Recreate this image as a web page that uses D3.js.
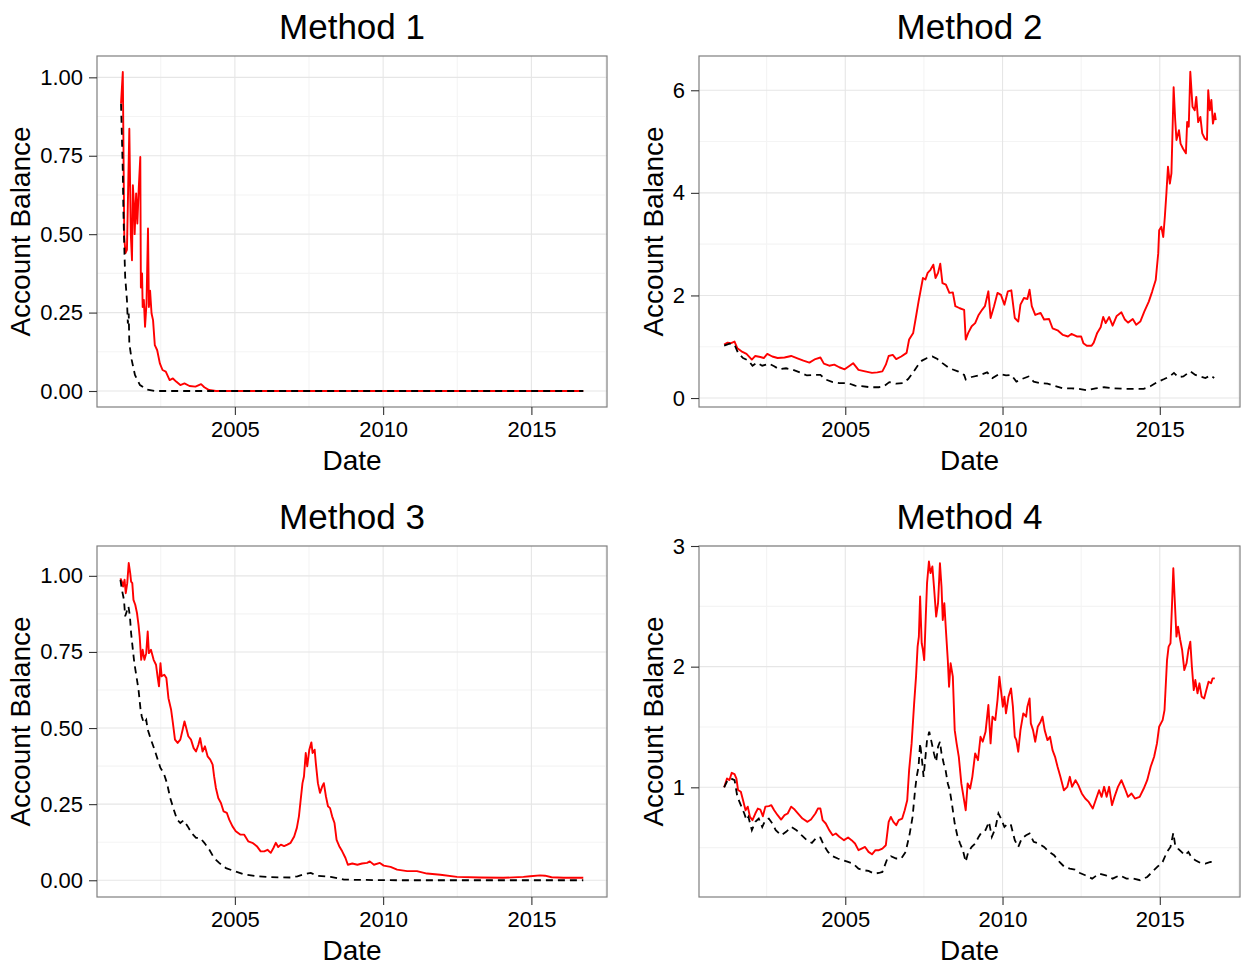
<!DOCTYPE html>
<html>
<head>
<meta charset="utf-8">
<script src="https://cdn.jsdelivr.net/npm/d3@7"></script>
<style>
body { margin: 0; background: #fff; }
svg text { font-family: "Liberation Sans", Arial, Helvetica, sans-serif; fill: #000; }
</style>
</head>
<body>
<svg id="canvas"></svg>
<script>
// values: [year, account balance]
let m1Red = [[2001.16,0.916],[2001.22,1.017],[2001.27,0.49],[2001.31,0.44],[2001.36,0.45],[2001.44,0.836],[2001.49,0.50],
  [2001.53,0.417],[2001.56,0.656],[2001.60,0.587],[2001.62,0.50],[2001.67,0.63],[2001.71,0.534],[2001.76,0.65],[2001.81,0.746],
  [2001.83,0.33],[2001.87,0.375],[2001.89,0.268],[2001.93,0.29],[2001.97,0.205],[2002.02,0.28],[2002.07,0.518],[2002.10,0.268],
  [2002.14,0.32],[2002.19,0.247],[2002.24,0.226],[2002.30,0.146],[2002.38,0.13],[2002.47,0.088],[2002.56,0.067],[2002.67,0.062],
  [2002.80,0.035],[2002.91,0.04],[2003.02,0.03],[2003.16,0.019],[2003.30,0.024],[2003.47,0.016],[2003.67,0.014],[2003.86,0.022],
  [2003.97,0.012],[2004.13,0.003],[2004.36,0],[2016.75,0]]
let m1Black = [[2001.16,0.916],[2001.19,0.81],[2001.22,0.70],[2001.24,0.576],[2001.27,0.46],[2001.30,0.364],[2001.36,0.29],
  [2001.39,0.215],[2001.42,0.247],[2001.44,0.152],[2001.52,0.099],[2001.63,0.051],[2001.80,0.019],[2002.02,0.005],[2002.30,0],[2016.75,0]]

let m2Red = [[2001.15,1.04],[2001.26,1.08],[2001.37,1.07],[2001.48,1.10],[2001.57,0.97],[2001.70,0.91],[2001.86,0.86],[2002.03,0.75],
  [2002.14,0.82],[2002.30,0.80],[2002.41,0.78],[2002.52,0.86],[2002.68,0.81],[2002.85,0.78],[2003.07,0.79],[2003.28,0.82],
  [2003.50,0.77],[2003.67,0.73],[2003.86,0.69],[2004.05,0.76],[2004.21,0.79],[2004.32,0.67],[2004.49,0.63],[2004.65,0.65],
  [2004.81,0.60],[2004.98,0.56],[2005.14,0.63],[2005.25,0.68],[2005.42,0.55],[2005.63,0.52],[2005.85,0.49],[2006.02,0.50],
  [2006.18,0.52],[2006.29,0.65],[2006.38,0.82],[2006.51,0.84],[2006.62,0.76],[2006.78,0.81],[2006.95,0.88],[2007.03,1.14],
  [2007.16,1.27],[2007.25,1.59],[2007.33,1.88],[2007.40,2.11],[2007.47,2.34],[2007.55,2.31],[2007.62,2.44],[2007.71,2.50],
  [2007.80,2.60],[2007.87,2.34],[2007.95,2.44],[2008.02,2.62],[2008.09,2.24],[2008.20,2.21],[2008.31,2.05],[2008.42,2.06],
  [2008.50,1.79],[2008.64,1.75],[2008.78,1.72],[2008.83,1.14],[2008.91,1.27],[2009.02,1.40],[2009.13,1.46],[2009.24,1.62],
  [2009.35,1.72],[2009.44,1.79],[2009.55,2.08],[2009.62,1.56],[2009.73,1.79],[2009.84,2.05],[2009.95,2.01],[2010.06,1.82],
  [2010.17,2.08],[2010.28,2.10],[2010.39,1.56],[2010.50,1.49],[2010.57,1.82],[2010.68,1.95],[2010.79,1.93],[2010.86,2.11],
  [2010.93,1.79],[2011.04,1.62],[2011.21,1.66],[2011.32,1.53],[2011.48,1.54],[2011.59,1.36],[2011.75,1.32],[2011.92,1.23],
  [2012.08,1.20],[2012.19,1.25],[2012.36,1.20],[2012.50,1.20],[2012.57,1.07],[2012.68,1.02],[2012.83,1.02],[2012.90,1.08],
  [2013.01,1.27],[2013.12,1.38],[2013.20,1.58],[2013.28,1.46],[2013.39,1.58],[2013.50,1.41],[2013.63,1.60],[2013.78,1.67],
  [2013.89,1.53],[2013.99,1.47],[2014.14,1.54],[2014.25,1.43],[2014.38,1.49],[2014.51,1.69],[2014.65,1.88],[2014.76,2.08],
  [2014.87,2.30],[2014.95,2.82],[2014.98,3.27],[2015.05,3.34],[2015.11,3.14],[2015.16,3.53],[2015.21,3.99],[2015.26,4.51],
  [2015.32,4.18],[2015.37,4.38],[2015.40,5.09],[2015.44,6.06],[2015.49,5.42],[2015.53,5.03],[2015.61,5.22],[2015.66,4.96],
  [2015.74,4.86],[2015.83,4.77],[2015.87,5.38],[2015.92,5.29],[2015.97,6.36],[2016.04,5.68],[2016.11,5.61],[2016.16,5.87],
  [2016.22,5.38],[2016.29,5.48],[2016.35,5.16],[2016.43,5.06],[2016.50,5.03],[2016.54,6.00],[2016.59,5.61],[2016.64,5.81],
  [2016.69,5.35],[2016.75,5.55],[2016.78,5.42]]
let m2Black = [[2001.15,1.02],[2001.32,1.06],[2001.48,1.04],[2001.59,0.88],[2001.75,0.78],[2001.92,0.73],[2002.05,0.63],
  [2002.19,0.69],[2002.36,0.63],[2002.57,0.67],[2002.74,0.62],[2002.90,0.56],[2003.12,0.58],[2003.34,0.55],[2003.56,0.50],
  [2003.78,0.44],[2004.00,0.45],[2004.21,0.45],[2004.38,0.36],[2004.60,0.31],[2004.81,0.29],[2005.09,0.29],[2005.31,0.24],
  [2005.52,0.23],[2005.80,0.21],[2006.07,0.21],[2006.23,0.23],[2006.40,0.31],[2006.62,0.28],[2006.84,0.29],[2007.00,0.37],
  [2007.16,0.50],[2007.30,0.63],[2007.44,0.73],[2007.60,0.78],[2007.77,0.81],[2007.93,0.76],[2008.09,0.68],[2008.31,0.58],
  [2008.58,0.52],[2008.78,0.45],[2008.83,0.36],[2009.02,0.41],[2009.24,0.44],[2009.51,0.50],[2009.68,0.39],[2009.90,0.47],
  [2010.11,0.44],[2010.28,0.45],[2010.44,0.32],[2010.61,0.37],[2010.83,0.42],[2010.99,0.32],[2011.21,0.29],[2011.43,0.28],
  [2011.64,0.24],[2011.92,0.19],[2012.19,0.19],[2012.41,0.18],[2012.68,0.15],[2012.96,0.19],[2013.23,0.21],[2013.50,0.19],
  [2013.83,0.18],[2014.16,0.18],[2014.49,0.18],[2014.70,0.23],[2014.92,0.31],[2015.14,0.37],[2015.31,0.42],[2015.45,0.49],
  [2015.58,0.41],[2015.75,0.42],[2015.97,0.52],[2016.13,0.45],[2016.28,0.42],[2016.45,0.39],[2016.61,0.44],[2016.73,0.39]]

let m3Red = [[2001.14,0.992],[2001.19,0.98],[2001.23,0.965],[2001.28,0.987],[2001.32,0.943],[2001.37,0.976],[2001.42,1.042],
  [2001.47,1.009],[2001.50,0.981],[2001.54,0.976],[2001.58,0.921],[2001.64,0.905],[2001.70,0.877],[2001.75,0.839],[2001.79,0.80],
  [2001.84,0.724],[2001.89,0.757],[2001.95,0.724],[2002.01,0.746],[2002.06,0.817],[2002.10,0.746],[2002.17,0.757],[2002.26,0.724],
  [2002.34,0.708],[2002.40,0.664],[2002.44,0.637],[2002.49,0.713],[2002.53,0.67],[2002.62,0.675],[2002.69,0.664],[2002.76,0.598],
  [2002.85,0.56],[2002.91,0.516],[2002.98,0.462],[2003.07,0.451],[2003.16,0.462],[2003.24,0.495],[2003.30,0.522],[2003.36,0.50],
  [2003.43,0.473],[2003.52,0.462],[2003.61,0.434],[2003.69,0.423],[2003.77,0.445],[2003.83,0.467],[2003.91,0.423],[2003.99,0.44],
  [2004.08,0.407],[2004.17,0.396],[2004.25,0.38],[2004.30,0.341],[2004.36,0.303],[2004.44,0.27],[2004.53,0.254],[2004.62,0.226],
  [2004.73,0.221],[2004.81,0.199],[2004.92,0.177],[2005.03,0.161],[2005.18,0.15],[2005.31,0.15],[2005.45,0.128],[2005.59,0.123],
  [2005.74,0.112],[2005.87,0.095],[2005.99,0.095],[2006.10,0.10],[2006.21,0.09],[2006.30,0.106],[2006.38,0.123],[2006.46,0.109],
  [2006.55,0.117],[2006.66,0.112],[2006.77,0.117],[2006.88,0.123],[2007.00,0.144],[2007.09,0.172],[2007.16,0.21],[2007.22,0.265],
  [2007.28,0.319],[2007.33,0.341],[2007.39,0.418],[2007.44,0.374],[2007.51,0.429],[2007.58,0.453],[2007.62,0.418],[2007.69,0.429],
  [2007.73,0.385],[2007.80,0.319],[2007.87,0.287],[2007.95,0.309],[2008.00,0.319],[2008.07,0.276],[2008.14,0.243],[2008.21,0.237],
  [2008.28,0.21],[2008.36,0.188],[2008.43,0.133],[2008.52,0.112],[2008.62,0.095],[2008.73,0.073],[2008.81,0.051],[2008.96,0.055],
  [2009.13,0.051],[2009.29,0.055],[2009.46,0.057],[2009.55,0.062],[2009.69,0.051],[2009.89,0.057],[2010.02,0.048],[2010.25,0.044],
  [2010.47,0.035],[2010.81,0.03],[2011.14,0.03],[2011.48,0.022],[2011.93,0.018],[2012.49,0.011],[2013.27,0.009],[2014.05,0.008],
  [2014.73,0.011],[2014.96,0.013],[2015.29,0.016],[2015.46,0.015],[2015.68,0.01],[2016.08,0.008],[2016.75,0.008]]
let m3Black = [[2001.14,0.987],[2001.19,0.954],[2001.26,0.921],[2001.30,0.867],[2001.37,0.888],[2001.41,0.90],[2001.46,0.867],
  [2001.50,0.812],[2001.56,0.757],[2001.61,0.713],[2001.68,0.67],[2001.75,0.626],[2001.82,0.56],[2001.86,0.538],[2001.93,0.516],
  [2002.01,0.527],[2002.06,0.495],[2002.17,0.462],[2002.29,0.429],[2002.40,0.396],[2002.49,0.369],[2002.60,0.352],[2002.71,0.319],
  [2002.82,0.27],[2002.94,0.232],[2003.05,0.199],[2003.16,0.188],[2003.27,0.197],[2003.41,0.177],[2003.54,0.155],[2003.69,0.139],
  [2003.83,0.139],[2003.97,0.123],[2004.14,0.10],[2004.30,0.073],[2004.47,0.057],[2004.70,0.04],[2004.98,0.03],[2005.31,0.019],
  [2005.76,0.013],[2006.21,0.01],[2006.88,0.009],[2007.11,0.013],[2007.33,0.02],[2007.56,0.024],[2007.78,0.015],[2008.23,0.011],
  [2008.68,0.002],[2009.35,0.001],[2010.47,0],[2016.75,0]]

let m4Red = [[2001.15,1.0],[2001.24,1.073],[2001.32,1.06],[2001.39,1.12],[2001.48,1.11],[2001.54,1.073],[2001.59,0.978],
  [2001.68,0.963],[2001.75,0.893],[2001.83,0.81],[2001.90,0.84],[2001.97,0.755],[2002.05,0.728],[2002.14,0.783],[2002.22,0.824],
  [2002.30,0.816],[2002.38,0.76],[2002.46,0.84],[2002.57,0.844],[2002.65,0.852],[2002.74,0.81],[2002.85,0.769],[2002.96,0.733],
  [2003.07,0.769],[2003.17,0.783],[2003.28,0.84],[2003.39,0.816],[2003.50,0.783],[2003.64,0.741],[2003.80,0.714],[2003.91,0.733],
  [2004.05,0.783],[2004.13,0.824],[2004.21,0.824],[2004.28,0.728],[2004.38,0.70],[2004.49,0.645],[2004.60,0.603],[2004.70,0.617],
  [2004.81,0.59],[2004.96,0.562],[2005.09,0.584],[2005.20,0.562],[2005.31,0.534],[2005.42,0.479],[2005.52,0.492],[2005.63,0.506],
  [2005.74,0.465],[2005.85,0.445],[2005.96,0.479],[2006.07,0.479],[2006.18,0.492],[2006.29,0.52],[2006.38,0.714],[2006.45,0.755],
  [2006.53,0.714],[2006.62,0.686],[2006.70,0.728],[2006.81,0.741],[2006.89,0.81],[2006.97,0.893],[2007.03,1.142],[2007.11,1.364],
  [2007.19,1.696],[2007.25,1.917],[2007.30,2.166],[2007.34,2.249],[2007.38,2.581],[2007.43,2.194],[2007.47,2.138],[2007.51,2.055],
  [2007.56,2.415],[2007.60,2.692],[2007.66,2.871],[2007.71,2.775],[2007.77,2.83],[2007.82,2.664],[2007.89,2.415],[2007.95,2.526],
  [2008.01,2.858],[2008.06,2.664],[2008.10,2.387],[2008.15,2.526],[2008.20,2.304],[2008.26,2.055],[2008.30,1.834],[2008.35,2.028],
  [2008.42,1.917],[2008.48,1.474],[2008.54,1.364],[2008.61,1.253],[2008.69,1.032],[2008.76,0.921],[2008.83,0.81],[2008.89,1.032],
  [2008.97,0.99],[2009.04,1.087],[2009.13,1.281],[2009.22,1.225],[2009.30,1.419],[2009.37,1.378],[2009.46,1.46],[2009.55,1.682],
  [2009.62,1.364],[2009.68,1.585],[2009.77,1.557],[2009.84,1.723],[2009.90,1.917],[2009.95,1.806],[2010.01,1.668],[2010.06,1.751],
  [2010.11,1.613],[2010.19,1.751],[2010.27,1.82],[2010.33,1.668],[2010.39,1.419],[2010.44,1.391],[2010.50,1.295],[2010.57,1.474],
  [2010.66,1.613],[2010.75,1.585],[2010.79,1.668],[2010.86,1.737],[2010.90,1.53],[2010.97,1.474],[2011.04,1.378],[2011.12,1.502],
  [2011.21,1.544],[2011.27,1.585],[2011.34,1.474],[2011.43,1.391],[2011.51,1.419],[2011.59,1.308],[2011.67,1.253],[2011.75,1.17],
  [2011.84,1.087],[2011.95,0.976],[2012.06,1.004],[2012.14,1.087],[2012.21,1.004],[2012.32,1.059],[2012.41,1.018],[2012.52,0.949],
  [2012.63,0.907],[2012.74,0.879],[2012.87,0.824],[2012.96,0.893],[2013.07,0.976],[2013.15,0.921],[2013.23,1.004],[2013.31,0.921],
  [2013.39,1.004],[2013.48,0.852],[2013.56,0.921],[2013.67,1.004],[2013.78,1.059],[2013.89,0.99],[2013.99,0.921],[2014.10,0.949],
  [2014.21,0.907],[2014.36,0.921],[2014.49,0.99],[2014.60,1.059],[2014.71,1.17],[2014.82,1.253],[2014.91,1.364],[2014.98,1.502],
  [2015.09,1.557],[2015.15,1.64],[2015.23,2.055],[2015.28,2.166],[2015.34,2.194],[2015.39,2.526],[2015.43,2.816],[2015.47,2.581],
  [2015.53,2.249],[2015.58,2.332],[2015.65,2.221],[2015.71,2.138],[2015.78,1.972],[2015.85,2.028],[2015.91,2.138],[2015.97,2.207],
  [2016.02,2.0],[2016.08,1.806],[2016.13,1.889],[2016.20,1.779],[2016.26,1.862],[2016.33,1.751],[2016.41,1.737],[2016.48,1.806],
  [2016.55,1.875],[2016.63,1.862],[2016.68,1.903],[2016.75,1.903]]
let m4Black = [[2001.15,1.0],[2001.26,1.06],[2001.37,1.073],[2001.48,1.06],[2001.57,0.921],[2001.68,0.852],[2001.79,0.783],
  [2001.86,0.728],[2001.92,0.755],[2002.03,0.645],[2002.14,0.714],[2002.25,0.741],[2002.36,0.672],[2002.46,0.728],[2002.57,0.741],
  [2002.68,0.70],[2002.79,0.645],[2002.96,0.603],[2003.12,0.631],[2003.28,0.672],[2003.45,0.645],[2003.61,0.603],[2003.78,0.562],
  [2003.94,0.539],[2004.10,0.589],[2004.21,0.584],[2004.32,0.52],[2004.45,0.465],[2004.60,0.429],[2004.76,0.41],[2004.92,0.396],
  [2005.09,0.382],[2005.25,0.368],[2005.42,0.326],[2005.58,0.313],[2005.74,0.307],[2005.91,0.285],[2006.07,0.29],[2006.18,0.299],
  [2006.34,0.41],[2006.45,0.429],[2006.62,0.41],[2006.78,0.41],[2006.92,0.465],[2007.05,0.617],[2007.14,0.755],[2007.22,0.978],
  [2007.27,1.087],[2007.33,1.17],[2007.38,1.364],[2007.44,1.225],[2007.49,1.087],[2007.55,1.253],[2007.60,1.391],[2007.67,1.46],
  [2007.73,1.391],[2007.82,1.281],[2007.89,1.212],[2007.95,1.336],[2008.01,1.378],[2008.06,1.281],[2008.13,1.198],[2008.19,1.142],
  [2008.26,1.032],[2008.32,0.978],[2008.39,0.866],[2008.48,0.70],[2008.56,0.603],[2008.65,0.534],[2008.74,0.479],[2008.83,0.382],
  [2008.91,0.465],[2009.02,0.506],[2009.13,0.534],[2009.24,0.589],[2009.34,0.631],[2009.46,0.645],[2009.57,0.714],[2009.66,0.589],
  [2009.77,0.658],[2009.87,0.783],[2009.95,0.741],[2010.06,0.672],[2010.17,0.70],[2010.27,0.686],[2010.39,0.562],[2010.50,0.506],
  [2010.61,0.576],[2010.75,0.603],[2010.86,0.617],[2010.99,0.548],[2011.15,0.534],[2011.32,0.506],[2011.48,0.465],[2011.64,0.437],
  [2011.81,0.382],[2011.97,0.34],[2012.14,0.326],[2012.30,0.318],[2012.46,0.29],[2012.63,0.271],[2012.85,0.243],[2013.07,0.285],
  [2013.28,0.271],[2013.50,0.243],[2013.72,0.271],[2013.94,0.243],[2014.16,0.243],[2014.37,0.23],[2014.60,0.257],[2014.76,0.299],
  [2014.92,0.34],[2015.09,0.382],[2015.23,0.465],[2015.34,0.506],[2015.43,0.622],[2015.49,0.52],[2015.58,0.492],[2015.69,0.465],
  [2015.80,0.437],[2015.91,0.465],[2016.00,0.423],[2016.13,0.396],[2016.29,0.373],[2016.45,0.368],[2016.61,0.382],[2016.75,0.373]]

let titles = ['Method 1', 'Method 2', 'Method 3', 'Method 4']
let xTicks = [2005, 2010, 2015]
let xMinor = [2002.5, 2007.5, 2012.5, 2017.5]
let yTicksSmall = [0, 0.25, 0.5, 0.75, 1]
let yMinorSmall = [0.125, 0.375, 0.625, 0.875]
let yTicks2 = [0, 2, 4, 6]
let yMinor2 = [1, 3, 5]
let yTicks4 = [1, 2, 3]
let yMinor4 = [0.5, 1.5, 2.5]

let w = 1241
let h = 966

let canvas = d3.select('#canvas')
canvas.attr('width', w).attr('height', h)

// yTitle = distance from panel left edge to the rotated y title baseline
let panels = [
  {title: titles[0], red: m1Red, black: m1Black, yDomain: [-0.051, 1.068], yTicks: yTicksSmall, yMinor: yMinorSmall,
   fmt: d3.format('.2f'), left: 97, right: 607, top: 56, bottom: 407, yTitle: 67},
  {title: titles[1], red: m2Red, black: m2Black, yDomain: [-0.175, 6.668], yTicks: yTicks2, yMinor: yMinor2,
   fmt: d3.format('d'), left: 699, right: 1240, top: 56, bottom: 407, yTitle: 36},
  {title: titles[2], red: m3Red, black: m3Black, yDomain: [-0.055, 1.098], yTicks: yTicksSmall, yMinor: yMinorSmall,
   fmt: d3.format('.2f'), left: 97, right: 607, top: 546, bottom: 897, yTitle: 67},
  {title: titles[3], red: m4Red, black: m4Black, yDomain: [0.091, 3.0], yTicks: yTicks4, yMinor: yMinor4,
   fmt: d3.format('d'), left: 699, right: 1240, top: 546, bottom: 897, yTitle: 36}
]

let drawPanel = (p) => {
  let xScale = d3.scaleLinear().domain([2000.35, 2017.55]).range([p.left, p.right])
  let yScale = d3.scaleLinear().domain(p.yDomain).range([p.bottom, p.top])
  let g = canvas.append('g')

  // grid: minor first, then major
  g.selectAll('.xminor').data(xMinor.filter(d => d < 2017.55)).enter().append('line')
    .attr('x1', d => xScale(d)).attr('x2', d => xScale(d))
    .attr('y1', p.top).attr('y2', p.bottom)
    .attr('stroke', '#f4f4f4').attr('stroke-width', 1.1)
  g.selectAll('.yminor').data(p.yMinor).enter().append('line')
    .attr('x1', p.left).attr('x2', p.right)
    .attr('y1', d => yScale(d)).attr('y2', d => yScale(d))
    .attr('stroke', '#f4f4f4').attr('stroke-width', 1.1)
  g.selectAll('.xmajor').data(xTicks).enter().append('line')
    .attr('x1', d => xScale(d)).attr('x2', d => xScale(d))
    .attr('y1', p.top).attr('y2', p.bottom)
    .attr('stroke', '#e6e6e6').attr('stroke-width', 1.1)
  g.selectAll('.ymajor').data(p.yTicks).enter().append('line')
    .attr('x1', p.left).attr('x2', p.right)
    .attr('y1', d => yScale(d)).attr('y2', d => yScale(d))
    .attr('stroke', '#e6e6e6').attr('stroke-width', 1.1)

  let line = d3.line()
    .x(d => xScale(d[0]))
    .y(d => yScale(d[1]))

  g.append('path').datum(p.red)
    .attr('d', line)
    .attr('fill', 'none')
    .attr('stroke', '#ff0000')
    .attr('stroke-width', 1.9)
    .attr('stroke-linejoin', 'round')

  g.append('path').datum(p.black)
    .attr('d', line)
    .attr('fill', 'none')
    .attr('stroke', '#000')
    .attr('stroke-width', 1.8)
    .attr('stroke-dasharray', '7,5')

  g.append('rect')
    .attr('x', p.left).attr('y', p.top)
    .attr('width', p.right - p.left).attr('height', p.bottom - p.top)
    .attr('fill', 'none').attr('stroke', '#7f7f7f').attr('stroke-width', 1.2)

  let xAxis = d3.axisBottom(xScale).tickValues(xTicks).tickFormat(d3.format('d')).tickSize(8).tickPadding(6)
  let xg = g.append('g')
    .attr('transform', 'translate(0, ' + p.bottom + ')')
    .call(xAxis)
  let yAxis = d3.axisLeft(yScale).tickValues(p.yTicks).tickFormat(p.fmt).tickSize(8).tickPadding(6)
  let yg = g.append('g')
    .attr('transform', 'translate(' + p.left + ', 0)')
    .call(yAxis)

  ;[xg, yg].forEach(a => {
    a.select('.domain').remove()
    a.selectAll('.tick line').attr('stroke', '#333').attr('stroke-width', 1.1)
    a.selectAll('.tick text').attr('font-size', 22).attr('fill', '#000')
      .attr('font-family', '"Liberation Sans", Arial, sans-serif')
  })

  let cx = (p.left + p.right) / 2
  g.append('text')
    .attr('x', cx).attr('y', p.top - 17)
    .attr('text-anchor', 'middle')
    .attr('font-size', 35)
    .text(p.title)

  g.append('text')
    .attr('x', cx).attr('y', p.bottom + 63)
    .attr('text-anchor', 'middle')
    .attr('font-size', 28)
    .text('Date')

  g.append('text')
    .attr('transform', 'translate(' + (p.left - p.yTitle) + ', ' + ((p.top + p.bottom) / 2) + ') rotate(-90)')
    .attr('text-anchor', 'middle')
    .attr('font-size', 28)
    .text('Account Balance')
}

panels.forEach(drawPanel)
</script>
</body>
</html>
